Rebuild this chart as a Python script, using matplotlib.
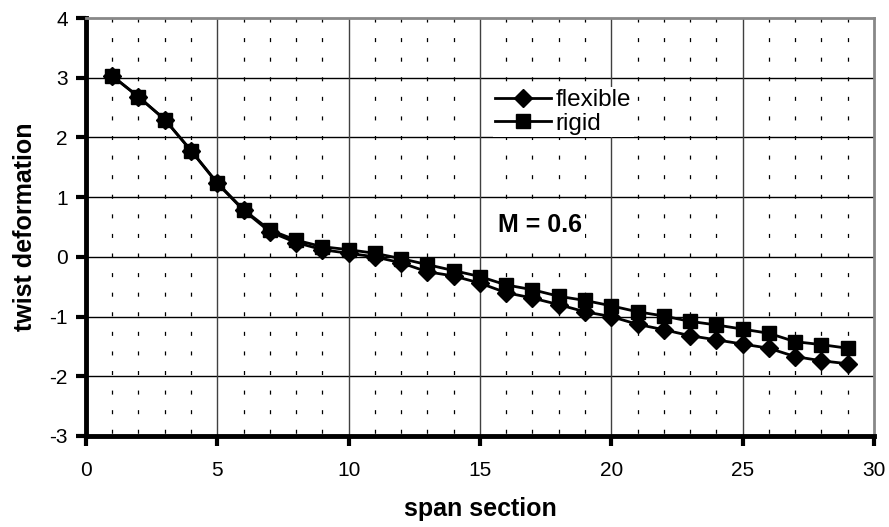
import matplotlib
matplotlib.use("Agg")
import matplotlib.pyplot as plt

plt.rcParams["font.family"] = ["Liberation Sans", "DejaVu Sans"]
plt.rcParams["lines.scale_dashes"] = False
plt.rcParams["axes.unicode_minus"] = False

# span sections 1..29
span = list(range(1, 30))
flexible = [3.03, 2.68, 2.30, 1.78, 1.23, 0.78, 0.42, 0.24, 0.12, 0.06,
            0.00, -0.10, -0.25, -0.32, -0.44, -0.60, -0.69, -0.80, -0.92, -1.00,
            -1.13, -1.22, -1.32, -1.39, -1.46, -1.53, -1.67, -1.74, -1.79]
rigid = [3.03, 2.68, 2.30, 1.78, 1.24, 0.79, 0.45, 0.28, 0.17, 0.12,
         0.06, -0.03, -0.13, -0.23, -0.33, -0.47, -0.55, -0.66, -0.73, -0.82,
         -0.92, -0.99, -1.08, -1.14, -1.21, -1.28, -1.42, -1.47, -1.53]

x_ticks = [0, 5, 10, 15, 20, 25, 30]
y_ticks = [-3, -2, -1, 0, 1, 2, 3, 4]

fig = plt.figure(figsize=(8.89, 5.27), dpi=100)
ax = fig.add_axes([0.0967, 0.1727, 0.8863, 0.7931])
ax.set_xlim(0, 30)
ax.set_ylim(-3, 4)

# grid: horizontal at integers, vertical at every 5, short dashes at each unit
for y in y_ticks[1:-1]:
    ax.axhline(y, color="black", lw=1, zorder=1)
for x in x_ticks[1:-1]:
    ax.axvline(x, color="#404040", lw=1, zorder=1)
minor_x = [x for x in range(1, 30) if x % 5 != 0]
ax.vlines(minor_x, 4, -3, colors="black", lw=0.9,
          linestyles=[(0, (2.9, 11.2))], zorder=1)

ax.plot(span, flexible, color="black", lw=2, marker="D", ms=9.5,
        label="flexible", zorder=3)
ax.plot(span, rigid, color="black", lw=2, marker="s", ms=10.5,
        label="rigid", zorder=3)

ax.set_xticks(x_ticks)
ax.set_yticks(y_ticks)
ax.tick_params(axis="both", direction="out", length=7, width=3,
               labelsize=15, color="black")
ax.tick_params(axis="x", pad=11)
ax.tick_params(axis="y", pad=6)

for s in ["left", "bottom"]:
    ax.spines[s].set_linewidth(3.5)
    ax.spines[s].set_color("black")
for s in ["top", "right"]:
    ax.spines[s].set_linewidth(2)
    ax.spines[s].set_color("#888888")

ax.set_xlabel("span section", fontsize=18, fontweight="bold", labelpad=12)
ax.set_ylabel("twist deformation", fontsize=18, fontweight="bold", labelpad=9)

ax.text(15.7, 0.54, "M = 0.6", fontsize=18, fontweight="bold", va="center",
        bbox=dict(facecolor="white", edgecolor="none", pad=2), zorder=2)

leg = ax.legend(loc="upper left", bbox_to_anchor=(0.516, 0.835), frameon=True,
                fontsize=17.5, handlelength=2.3, handletextpad=0.2, borderpad=0.1,
                borderaxespad=0, labelspacing=0.05, fancybox=False)
leg.get_frame().set_facecolor("white")
leg.get_frame().set_edgecolor("none")
leg.get_frame().set_alpha(1)

fig.savefig("out.png", dpi=100)
